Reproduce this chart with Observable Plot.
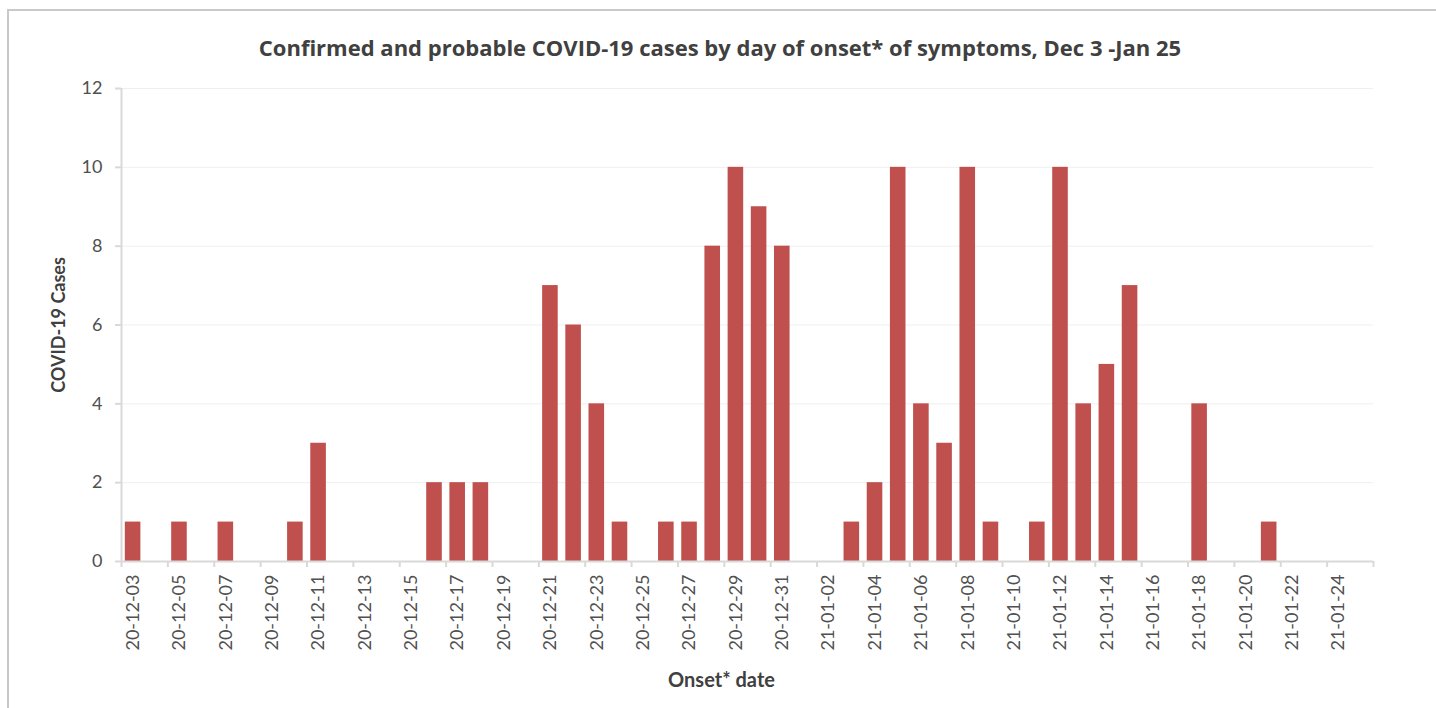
<!DOCTYPE html>
<html>
<head>
<meta charset="utf-8">
<script src="https://cdn.jsdelivr.net/npm/d3@7"></script>
<script src="https://cdn.jsdelivr.net/npm/@observablehq/plot@0.6"></script>
<style>
  html, body { margin: 0; padding: 0; background: #fff; }
  body { width: 1436px; height: 708px; position: relative; overflow: hidden; font-family: Lato, "Open Sans", sans-serif; }
  #frame { position: absolute; left: 7px; top: 9px; width: 1440px; height: 720px; border-top: 2px solid #c9c9c9; border-left: 2px solid #c9c9c9; box-sizing: border-box; }
  #title { position: absolute; left: 0; top: 33px; width: 1440px; text-align: center; font: bold 22px "Open Sans", Lato, sans-serif; color: #404040; line-height: 28px; }
  #chart { position: absolute; left: 0; top: 70px; }
</style>
</head>
<body>
<div id="frame"></div>
<div id="title">Confirmed and probable COVID-19 cases by day of onset* of symptoms, Dec 3 -Jan 25</div>
<div id="chart"></div>
<script>
const dates = [
  "20-12-03","20-12-04","20-12-05","20-12-06","20-12-07","20-12-08","20-12-09","20-12-10",
  "20-12-11","20-12-12","20-12-13","20-12-14","20-12-15","20-12-16","20-12-17","20-12-18",
  "20-12-19","20-12-20","20-12-21","20-12-22","20-12-23","20-12-24","20-12-25","20-12-26",
  "20-12-27","20-12-28","20-12-29","20-12-30","20-12-31",
  "21-01-01","21-01-02","21-01-03","21-01-04","21-01-05","21-01-06","21-01-07","21-01-08",
  "21-01-09","21-01-10","21-01-11","21-01-12","21-01-13","21-01-14","21-01-15","21-01-16",
  "21-01-17","21-01-18","21-01-19","21-01-20","21-01-21","21-01-22","21-01-23","21-01-24",
  "21-01-25"
];
const cases = [
  1,0,1,0,1,0,0,1,
  3,0,0,0,0,2,2,2,
  0,0,7,6,4,1,0,1,
  1,8,10,9,8,
  0,0,1,2,10,4,3,10,
  1,0,1,10,4,5,7,0,
  0,4,0,0,1,0,0,0,
  0
];
const yTicks = [0, 2, 4, 6, 8, 10, 12];
const title = "Confirmed and probable COVID-19 cases by day of onset* of symptoms, Dec 3 -Jan 25";
const yLabel = "COVID-19 Cases";
const xLabel = "Onset* date";

const table = dates.map((d, i) => ({i, date: d, count: cases[i]}));
const n = dates.length;
const boundaryTicks = d3.range(0, n + 1, 2);
const labelTicks = d3.range(0, n, 2).map(i => i + 0.5);

const textColor = "#505050";
const axisColor = "#d9d9d9";

const chart = Plot.plot({
  width: 1436,
  height: 638,
  marginTop: 18,
  marginBottom: 147,
  marginLeft: 121,
  marginRight: 63,
  style: {fontFamily: "Lato, 'Open Sans', sans-serif", color: textColor, background: "transparent"},
  x: {type: "linear", domain: [0, n]},
  y: {domain: [0, 12]},
  marks: [
    Plot.gridY(yTicks, {stroke: "#efefef", strokeOpacity: 1}),
    Plot.rectY(table, {x1: "i", x2: d => d.i + 1, y: "count", fill: "#c0504d", insetLeft: 3.8, insetRight: 3.8}),
    Plot.ruleY([0], {stroke: axisColor, strokeWidth: 2}),
    Plot.ruleX([0], {stroke: axisColor, strokeWidth: 2}),
    Plot.axisY({ticks: yTicks, tickSize: 6, tickPadding: 13, fontSize: 18, stroke: axisColor, strokeWidth: 2, fill: textColor, label: null}),
    Plot.axisX({ticks: boundaryTicks, tickSize: 6, tickFormat: () => "", stroke: axisColor, strokeWidth: 2, label: null}),
    Plot.axisX({ticks: labelTicks, tickSize: 0, tickPadding: 13, tickRotate: -90, fontSize: 18, fill: textColor, tickFormat: v => dates[Math.round(v - 0.5)], label: null}),
    Plot.text([yLabel], {frameAnchor: "left", textAnchor: "middle", lineAnchor: "middle", rotate: -90, dx: -62, fontSize: 18, fontWeight: "bold", fill: "#404040"}),
    Plot.text([xLabel], {frameAnchor: "bottom", textAnchor: "middle", lineAnchor: "middle", dx: -26, dy: 119, fontSize: 20, fontWeight: "bold", fill: "#404040"})
  ]
});
document.getElementById("chart").appendChild(chart);
</script>
</body>
</html>
